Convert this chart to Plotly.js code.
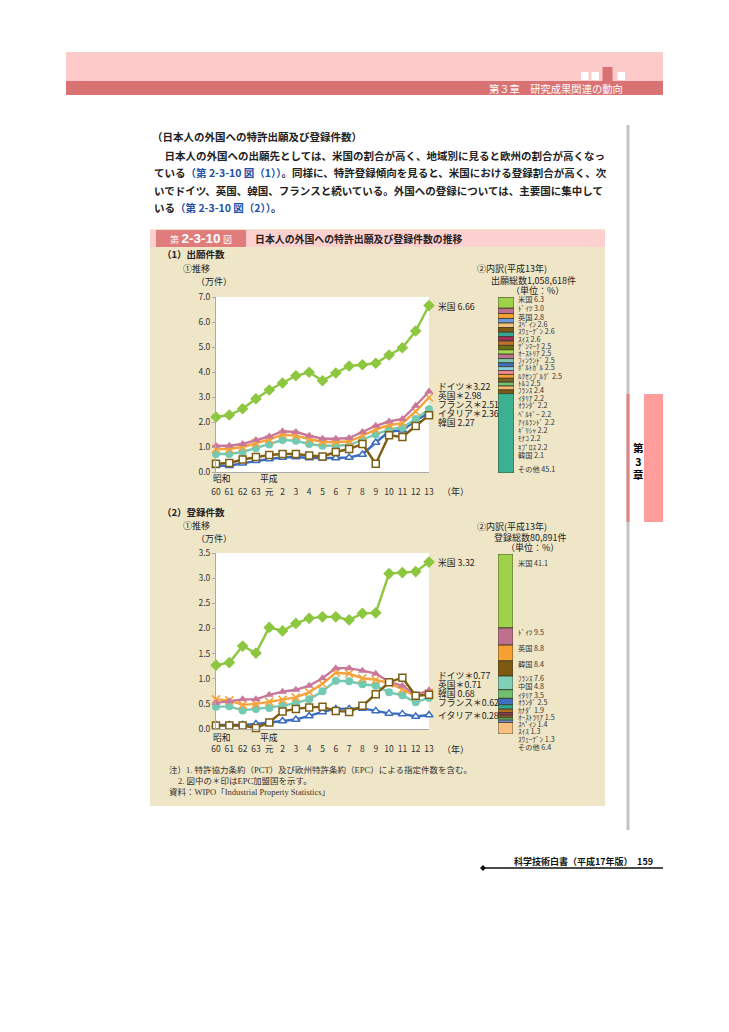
<!DOCTYPE html>
<html><head><meta charset="utf-8">
<script src="https://cdn.plot.ly/plotly-3.0.1.min.js"></script>
<style>html,body{margin:0;padding:0;background:#fff}</style>
</head><body><div id="chart" style="width:729px;height:1032px"></div>
<script>
// ---------- data ----------
const years = ['60','61','62','63','元','2','3','4','5','6','7','8','9','10','11','12','13'];
const countries = ['米国','ドイツ','英国','フランス','イタリア','韓国'];
const epcMember = [false,true,true,true,true,false];

// (1) applications (10,000 cases)
const appUS = [2.20,2.28,2.53,2.93,3.28,3.56,3.85,3.99,3.65,3.96,4.24,4.29,4.35,4.68,4.97,5.64,6.66];
const appDE = [1.05,1.05,1.12,1.28,1.42,1.63,1.60,1.45,1.33,1.33,1.36,1.60,1.85,2.02,2.12,2.65,3.22];
const appUK = [0.92,0.92,1.00,1.15,1.30,1.50,1.45,1.32,1.20,1.20,1.22,1.45,1.70,1.88,1.95,2.42,2.98];
const appFR = [0.72,0.72,0.80,0.95,1.10,1.28,1.25,1.12,1.05,1.05,1.07,1.30,1.50,1.70,1.78,2.12,2.51];
const appIT = [0.25,0.25,0.35,0.45,0.52,0.58,0.60,0.56,0.55,0.56,0.58,0.70,1.18,1.62,1.67,2.06,2.36];
const appKR = [0.33,0.36,0.50,0.60,0.68,0.72,0.72,0.66,0.62,0.80,0.92,1.12,0.33,1.47,1.40,1.84,2.27];

// (2) registrations (10,000 cases)
const regUS = [1.27,1.32,1.65,1.51,2.02,1.95,2.10,2.20,2.23,2.23,2.17,2.30,2.31,3.09,3.11,3.13,3.32];
const regDE = [0.52,0.55,0.59,0.59,0.68,0.74,0.78,0.86,1.01,1.21,1.21,1.16,1.10,0.94,0.86,0.68,0.77];
const regUK = [0.59,0.57,0.48,0.50,0.54,0.58,0.63,0.73,0.90,1.12,1.10,1.01,0.98,0.91,0.79,0.65,0.71];
const regFR = [0.44,0.45,0.37,0.40,0.42,0.46,0.52,0.59,0.75,0.96,0.95,0.89,0.86,0.73,0.67,0.53,0.62];
const regIT = [0.08,0.08,0.08,0.10,0.13,0.16,0.19,0.26,0.34,0.40,0.40,0.41,0.36,0.31,0.30,0.25,0.28];
const regKR = [0.07,0.07,0.07,0.02,0.13,0.35,0.40,0.43,0.44,0.36,0.34,0.46,0.69,0.93,1.02,0.66,0.68];

// breakdown H13 (%), top to bottom
const appShareNames = ['米国','ﾄﾞｲﾂ','英国','ｽﾍﾟｲﾝ','ｽｳｪｰﾃﾞﾝ','ｽｲｽ','ﾃﾞﾝﾏｰｸ','ｵｰｽﾄﾘｱ','ﾌｨﾝﾗﾝﾄﾞ','ﾎﾟﾙﾄｶﾞﾙ','ﾙｸｾﾝﾌﾞﾙｸﾞ','ﾄﾙｺ','ﾌﾗﾝｽ','ｲﾀﾘｱ','ｵﾗﾝﾀﾞ','ﾍﾞﾙｷﾞｰ','ｱｲﾙﾗﾝﾄﾞ','ｷﾞﾘｼｬ','ﾓﾅｺ','ｷﾌﾟﾛｽ','韓国','その他'];
const appShareVals  = [6.3,3.0,2.8,2.6,2.6,2.6,2.5,2.5,2.5,2.5,2.5,2.5,2.4,2.2,2.2,2.2,2.2,2.2,2.2,2.2,2.1,45.1];
const appShareColors = ['#9fd24a','#c0708f','#f5a030','#6f98d8','#f7c07a','#7d5a10','#35a890','#a0305a','#c0702a','#6a7010','#a8d850','#c07090','#78c8b0','#3f70c0','#88d0e0','#f48898','#f5a030','#806020','#70c070','#f8b870','#7d5a10','#3cb090'];

const regShareNames = ['米国','ﾄﾞｲﾂ','英国','韓国','ﾌﾗﾝｽ','中国','ｲﾀﾘｱ','ｵﾗﾝﾀﾞ','ｶﾅﾀﾞ','ｵｰｽﾄﾗﾘｱ','ｽﾍﾟｲﾝ','ｽｲｽ','ｽｳｪｰﾃﾞﾝ','その他'];
const regShareVals  = [41.1,9.5,8.8,8.4,7.6,4.8,3.5,2.5,1.9,1.5,1.4,1.3,1.3,6.4];
const regShareColors = ['#9fd24a','#c0708f','#f5a030','#7d5a10','#80d0b8','#70c070','#3f70c0','#30a890','#b07020','#a0305a','#806020','#70c070','#6f98d8','#f8c080'];

// ---------- layout helpers ----------
const W = 729, H = 1032;
const X = p => p / W, Y = p => 1 - p / H;
const FONT = 'Noto Sans CJK JP, sans-serif';
const SERIF = 'Liberation Serif, Noto Sans CJK JP, serif';
const colors = {US:'#8dc63f', DE:'#c9779a', UK:'#f5a33a', FR:'#74c9b2', IT:'#3a6cc0', KR:'#7d5e15'};

function lineTrace(vals, color, symbol, open, xa, ya, size) {
  return {type:'scatter', mode:'lines+markers', x:years, y:vals, xaxis:xa, yaxis:ya,
    line:{color:color, width:2.4}, cliponaxis:false, hoverinfo:'skip',
    marker:{symbol:symbol, size:size, color: open ? '#ffffff' : color,
            line:{color:color, width: open ? 1.5 : 0}}};
}
function xTrace(vals, color, xa, ya) {
  return {type:'scatter', mode:'lines+markers', x:years, y:vals, xaxis:xa, yaxis:ya,
    line:{color:color, width:2.4}, cliponaxis:false, hoverinfo:'skip',
    marker:{symbol:'x-thin-open', size:8, color:color, line:{color:color, width:1.6}}};
}
function stackTrace(vals, cols, xa, ya) {
  const base = vals.map((v,i) => vals.slice(i+1).reduce((a,b)=>a+b,0));
  return {type:'bar', x: vals.map(()=> 'share'), y: vals, base: base, width: 1,
    xaxis:xa, yaxis:ya, hoverinfo:'skip',
    marker:{color:cols, line:{color:'#3a3a2a', width:0.8}}};
}

const traces = [
  lineTrace(appIT, colors.IT, 'triangle-up', true, 'x', 'y', 7),
  lineTrace(appFR, colors.FR, 'circle', false, 'x', 'y', 8),
  xTrace(appUK, colors.UK, 'x', 'y'),
  lineTrace(appDE, colors.DE, 'triangle-up', false, 'x', 'y', 8),
  lineTrace(appKR, colors.KR, 'square', true, 'x', 'y', 7),
  lineTrace(appUS, colors.US, 'diamond', false, 'x', 'y', 9),

  lineTrace(regIT, colors.IT, 'triangle-up', true, 'x2', 'y2', 7),
  lineTrace(regFR, colors.FR, 'circle', false, 'x2', 'y2', 8),
  xTrace(regUK, colors.UK, 'x2', 'y2'),
  lineTrace(regDE, colors.DE, 'triangle-up', false, 'x2', 'y2', 8),
  lineTrace(regKR, colors.KR, 'square', true, 'x2', 'y2', 7),
  lineTrace(regUS, colors.US, 'diamond', false, 'x2', 'y2', 9),

  stackTrace(appShareVals, appShareColors, 'x3', 'y3'),
  stackTrace(regShareVals, regShareColors, 'x4', 'y4')
];

const ann = [];
function A(x, y, text, size, o) {
  ann.push(Object.assign({x:X(x), y:Y(y), xref:'paper', yref:'paper', text:text, showarrow:false,
    xanchor:'left', yanchor:'middle', font:{family:FONT, size:size, color:'#222'}}, o || {}));
}

// header
A(625, 88, '第３章　研究成果関連の動向', 10.3, {xanchor:'right', font:{family:FONT, size:10.3, color:'#ffffff'}});
// body text
const BLUE = '#2352a5';
A(150, 136, '<b>（日本人の外国への特許出願及び登録件数）</b>', 10.5);
A(152, 155, '<b>　日本人の外国への出願先としては、米国の割合が高く、地域別に見ると欧州の割合が高くなっ</b>', 10.5);
A(152, 173, '<b>ている<span style="color:' + BLUE + '">（第 2-3-10 図（1））</span>。同様に、特許登録傾向を見ると、米国における登録割合が高く、次</b>', 10.5);
A(152, 190, '<b>いでドイツ、英国、韓国、フランスと続いている。外国への登録については、主要国に集中して</b>', 10.5);
A(152, 207, '<b>いる<span style="color:' + BLUE + '">（第 2-3-10 図（2））</span>。</b>', 10.5);

// figure title
A(201, 239, '<span style="font-size:9px">第 </span><b>2-3-10</b><span style="font-size:9px"> 図</span>', 13.5,
  {xanchor:'center', font:{family:'Liberation Sans, Noto Sans CJK JP, sans-serif', size:13.5, color:'#ffffff'}});
A(253, 239, '<b>日本人の外国への特許出願及び登録件数の推移</b>', 9.9);

// section (1)
A(160, 254, '<b>（1）出願件数</b>', 9.5);
A(181, 268, '①推移', 9);
A(194, 281, '（万件）', 9);
A(475, 268, '②内訳(平成13年)', 9);
A(533, 280, '出願総数1,058,618件', 9, {xanchor:'center'});
A(537, 290, '（単位：%）', 9, {xanchor:'center'});
A(222, 479, '昭和', 8.8, {xanchor:'center'});
A(269, 479, '平成', 8.8, {xanchor:'center'});
A(440, 492, '（年）', 9);

// section (2)
A(160, 512, '<b>（2）登録件数</b>', 9.5);
A(181, 525, '①推移', 9);
A(194, 538, '（万件）', 9);
A(475, 526, '②内訳(平成13年)', 9);
A(530, 537, '登録総数80,891件', 9, {xanchor:'center'});
A(532, 547, '（単位：%）', 9, {xanchor:'center'});
A(222, 737, '昭和', 8.8, {xanchor:'center'});
A(269, 737, '平成', 8.8, {xanchor:'center'});
A(440, 749, '（年）', 9);

// line end labels
function label(name, star, v) { return name + (star ? '＊' : ' ') + v.toFixed(2); }
const app = [appUS, appDE, appUK, appFR, appIT, appKR];
const reg = [regUS, regDE, regUK, regFR, regIT, regKR];
const appLabelY = [306, 386.5, 395.5, 404.5, 413, 422];
const appOrder = [0,1,2,3,4,5];
appOrder.forEach((k, i) => A(436, appLabelY[i], label(countries[k], epcMember[k], app[k][app[k].length-1]), 8.8,
  {font:{family:FONT, size:8.8, color:'#222'}}));
const regLabelY = [562, 675, 684, 693, 702, 715];
const regOrder = [0,1,2,5,3,4];
regOrder.forEach((k, i) => A(436, regLabelY[i], label(countries[k], epcMember[k], reg[k][reg[k].length-1]), 8.8,
  {font:{family:FONT, size:8.8, color:'#222'}}));

// bar labels
const appShareY = [299,308,317,324,331,339,346,353,360,367,376,383,390,398,405,414,422,430,438,447,455,469];
appShareNames.forEach((n,i) => A(516, appShareY[i], n + ' ' + appShareVals[i].toFixed(1), 7.2, {font:{family:FONT,size:7.2,color:'#333'}}));
const regShareY = [563,632,648,664,678,686,695,702,710,717,724,731,739,747];
regShareNames.forEach((n,i) => A(516, regShareY[i], n + ' ' + regShareVals[i].toFixed(1), 7.2, {font:{family:FONT,size:7.2,color:'#333'}}));

// notes
const noteFont = {family:SERIF, size:8.5, color:'#333'};
A(167, 770, '注）1. 特許協力条約（PCT）及び欧州特許条約（EPC）による指定件数を含む。', 8.5, {font:noteFont});
A(176, 781, '2. 図中の＊印はEPC加盟国を示す。', 8.5, {font:noteFont});
A(167, 792, '資料：WIPO「Industrial Property Statistics」', 8.5, {font:noteFont});

// side tab + footer
A(638, 461, '<b>第<br>3<br>章</b>', 10.5, {xanchor:'center', font:{family:FONT, size:10.5, color:'#000'}});
A(655, 861, '<b>科学技術白書（平成17年版）　159</b>', 9, {xanchor:'right', font:{family:FONT, size:9, color:'#111'}});

// shapes
function R(x0,y0,x1,y1,fill){ return {type:'rect', xref:'paper', yref:'paper', x0:X(x0), x1:X(x1), y0:Y(y1), y1:Y(y0), fillcolor:fill, line:{width:0}, layer:'below'}; }
const shapes = [
  R(66,52,663,81,'#fdcaca'),
  R(66,81,663,95,'#d97373'),
  R(581,72,588.5,80,'#ffffff'),
  R(591.5,72,599,80,'#ffffff'),
  R(602.5,67,612.5,81,'#d97373'),
  R(617.5,72,625,80,'#ffffff'),
  R(626.5,125,629.5,830,'#c4c4c4'),
  R(626.5,394,629.5,522,'#e08484'),
  R(644,394,663,522,'#ff9c9c'),
  R(150,229,605,806,'#efe6c8'),
  R(150,230,605,247,'#fdd0d0'),
  R(156,230,246,247,'#e07c7c'),
  R(216,297,429,472,'#ffffff'),
  R(216,553,429,729,'#ffffff'),
  {type:'line', xref:'paper', yref:'paper', x0:X(483), x1:X(663), y0:Y(868), y1:Y(868), line:{color:'#111', width:1.5}},
  {type:'path', xref:'paper', yref:'paper', path:`M ${X(480)} ${Y(868)} L ${X(483)} ${Y(865)} L ${X(486)} ${Y(868)} L ${X(483)} ${Y(871)} Z`, fillcolor:'#111', line:{width:0}}
];

const tickFont = {family:FONT, size:8.5, color:'#333'};
function xAx(l, r, anchor) {
  return {domain:[X(l), X(r)], type:'category', range:[0, years.length-1], anchor:anchor,
    showline:true, linecolor:'#aaa', linewidth:1, ticks:'', showgrid:false, zeroline:false,
    tickfont:tickFont, ticklabelstandoff:12, fixedrange:true};
}
function yAx(b, t, max, dt, anchor) {
  return {domain:[Y(b), Y(t)], range:[0, max], dtick:dt, tickformat:'.1f', anchor:anchor,
    showline:true, linecolor:'#aaa', linewidth:1, ticks:'outside', ticklen:3, tickcolor:'#aaa',
    showgrid:false, zeroline:false, tickfont:tickFont, fixedrange:true};
}
const hid = (d, rng) => ({domain:d, range:rng, visible:false, fixedrange:true});

const layout = {
  width:W, height:H, margin:{l:0, r:0, t:0, b:0},
  paper_bgcolor:'#ffffff', plot_bgcolor:'rgba(0,0,0,0)',
  showlegend:false, font:{family:FONT},
  xaxis: xAx(216, 429, 'y'),
  yaxis: yAx(472, 297, 7, 1, 'x'),
  xaxis2: xAx(216, 429, 'y2'),
  yaxis2: yAx(729, 553, 3.5, 0.5, 'x2'),
  xaxis3: Object.assign(hid([X(498), X(514)], [-0.5, 0.5]), {type:'category', anchor:'y3'}),
  yaxis3: Object.assign(hid([Y(473), Y(297)], [0, 100]), {anchor:'x3'}),
  xaxis4: Object.assign(hid([X(498), X(513)], [-0.5, 0.5]), {type:'category', anchor:'y4'}),
  yaxis4: Object.assign(hid([Y(734), Y(554)], [0, 100]), {anchor:'x4'}),
  shapes: shapes,
  annotations: ann
};

Plotly.newPlot('chart', traces, layout, {displayModeBar:false, staticPlot:true});
</script></body></html>
